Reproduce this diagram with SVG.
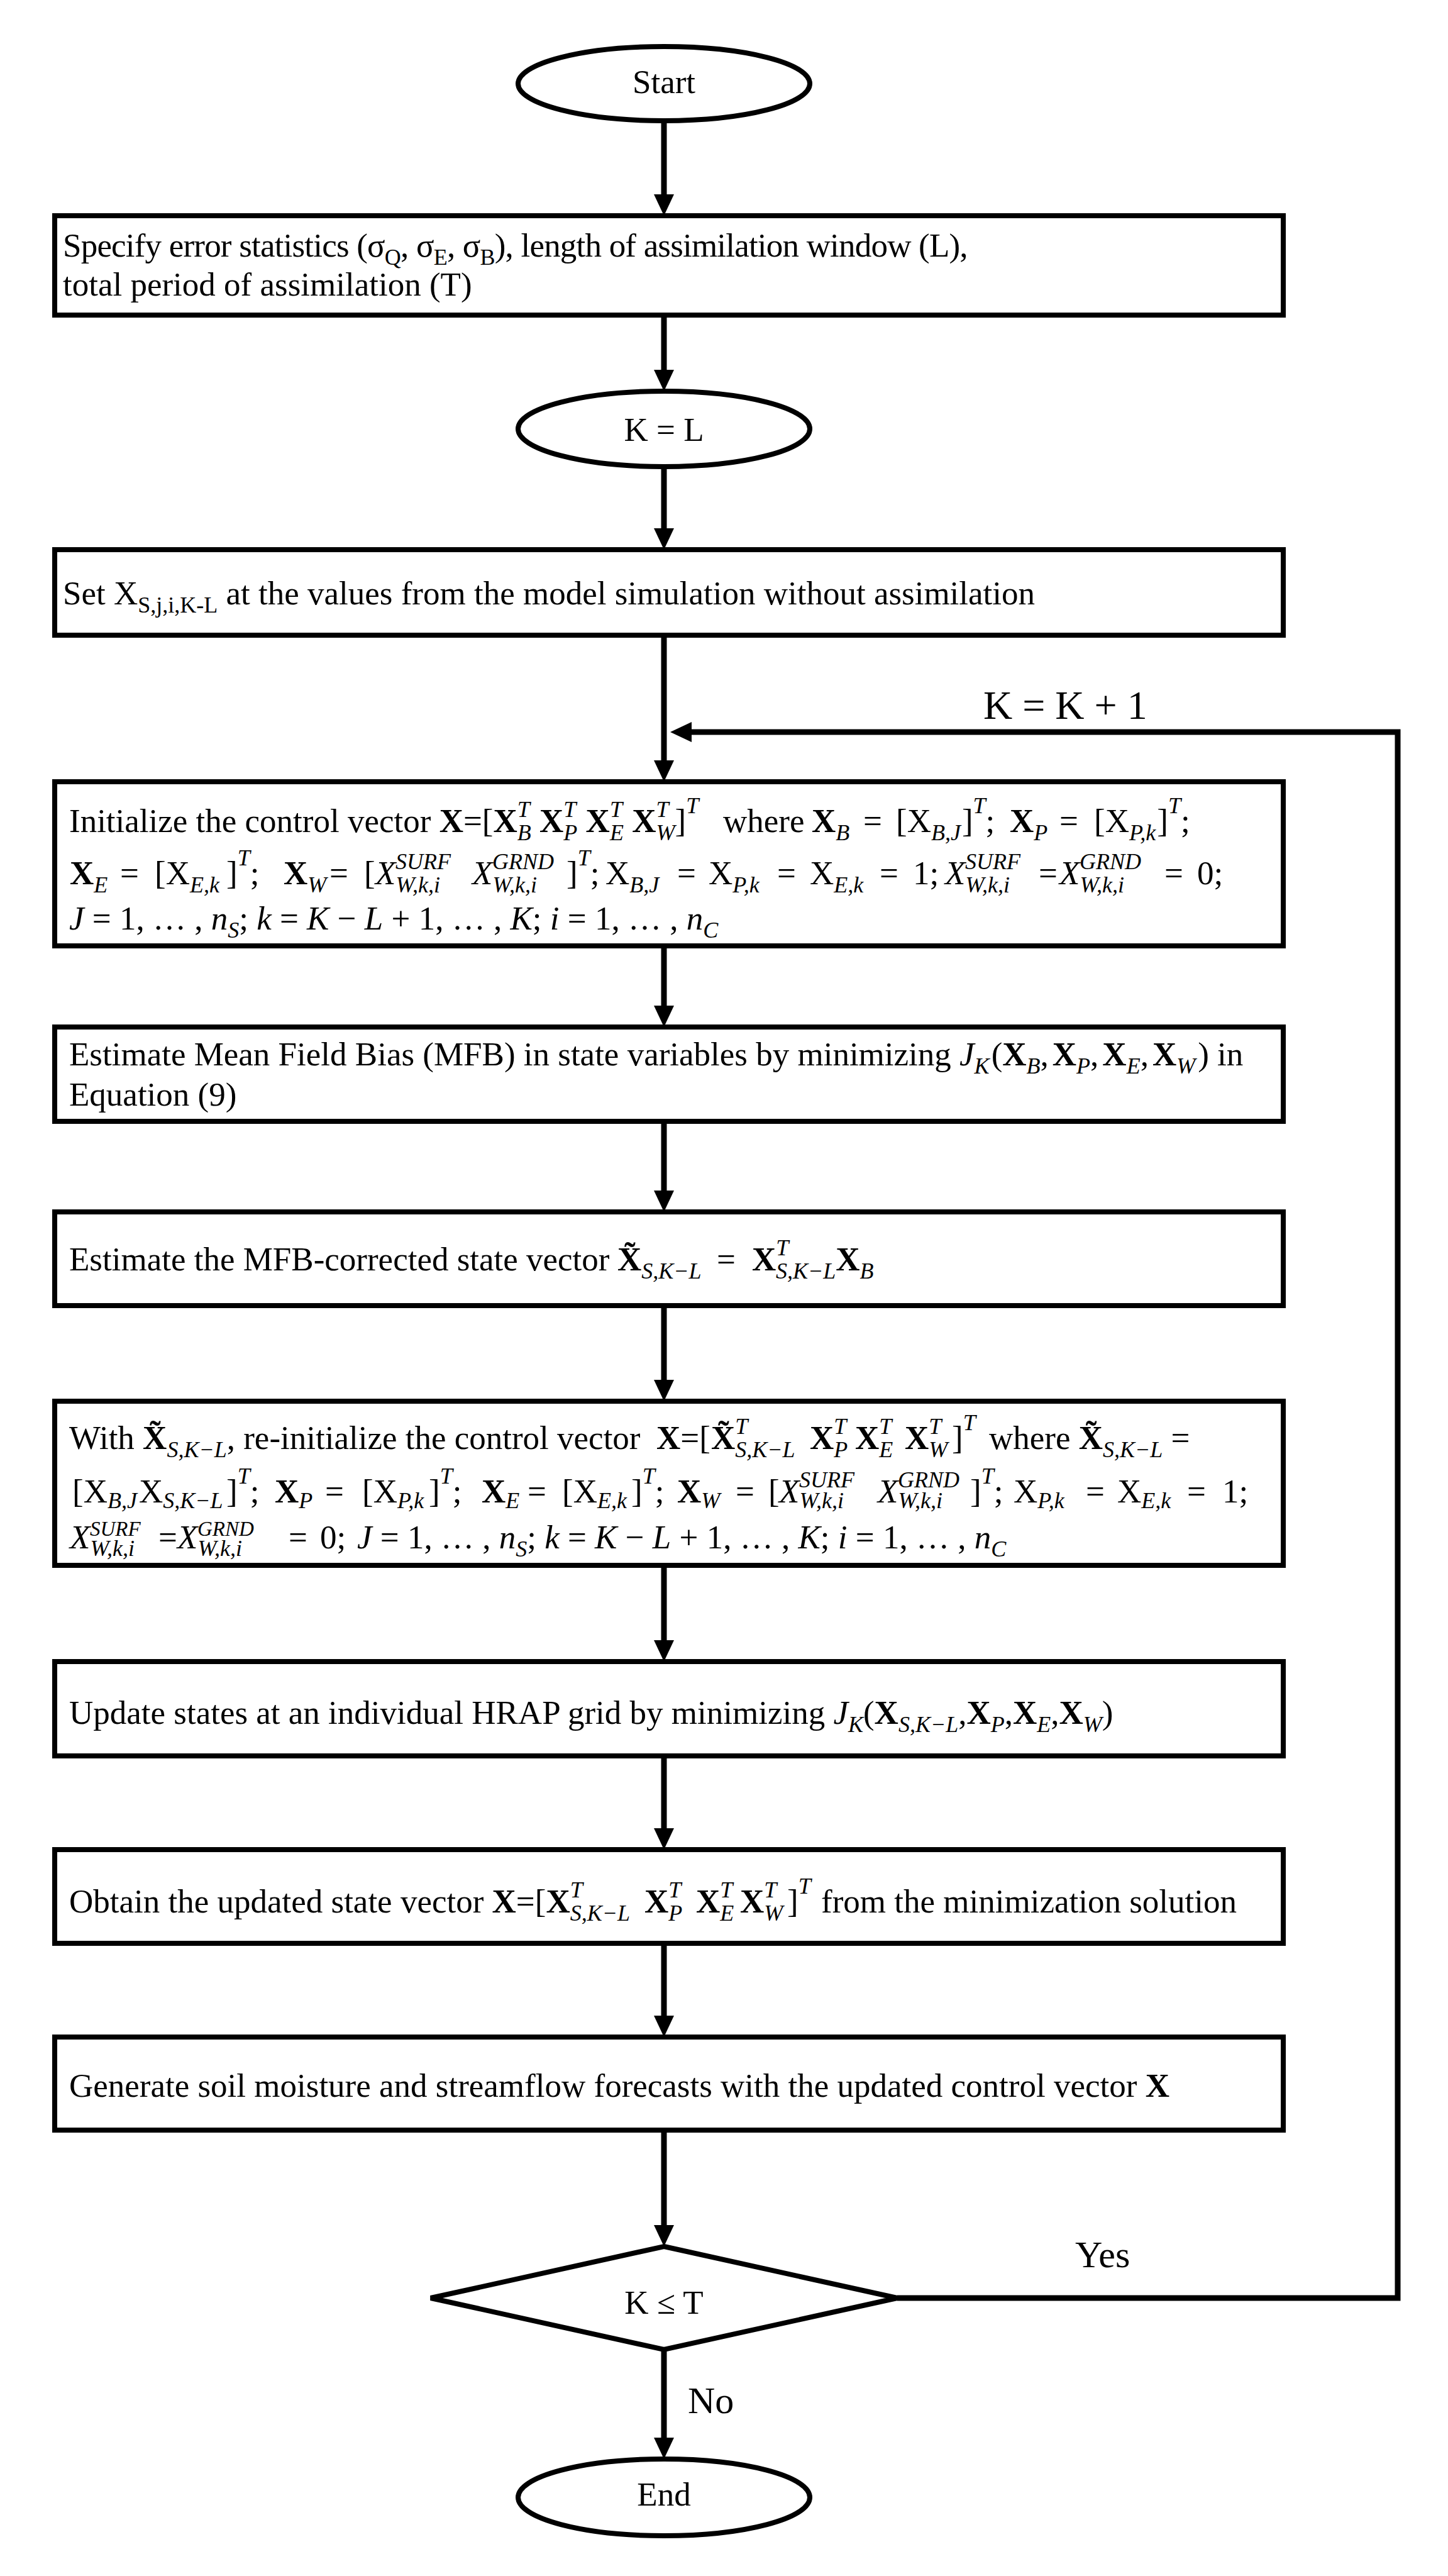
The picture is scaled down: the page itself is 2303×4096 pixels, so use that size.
<svg xmlns="http://www.w3.org/2000/svg" width="2303" height="4096" viewBox="0 0 2303 4096">
<defs>
<style>
.t{font-family:"Liberation Serif","Times New Roman",serif;font-size:53px;fill:#000}
.lb{font-family:"Liberation Serif","Times New Roman",serif;fill:#000}
.b{font-weight:bold}
.i{font-style:italic}
.s{font-size:36px}
.ss{font-size:33px}
.box{fill:#fff;stroke:#000;stroke-width:8}
.edge{fill:none;stroke:#000;stroke-width:9}
</style>
<marker id="ah" markerUnits="userSpaceOnUse" markerWidth="34" markerHeight="32" refX="4" refY="16" orient="auto"><path d="M0,0 L34,16 L0,32 Z" fill="#000"/></marker>
</defs>
<rect width="2303" height="4096" fill="#fff"/>
<g id="edges">
<line class="edge" x1="1056" y1="192" x2="1056" y2="313" marker-end="url(#ah)"/>
<line class="edge" x1="1056" y1="501" x2="1056" y2="592" marker-end="url(#ah)"/>
<line class="edge" x1="1056" y1="742" x2="1056" y2="844" marker-end="url(#ah)"/>
<line class="edge" x1="1056" y1="1010" x2="1056" y2="1213" marker-end="url(#ah)"/>
<line class="edge" x1="1056" y1="1504" x2="1056" y2="1603" marker-end="url(#ah)"/>
<line class="edge" x1="1056" y1="1783" x2="1056" y2="1897" marker-end="url(#ah)"/>
<line class="edge" x1="1056" y1="2076" x2="1056" y2="2198" marker-end="url(#ah)"/>
<line class="edge" x1="1056" y1="2489" x2="1056" y2="2612" marker-end="url(#ah)"/>
<line class="edge" x1="1056" y1="2792" x2="1056" y2="2911" marker-end="url(#ah)"/>
<line class="edge" x1="1056" y1="3090" x2="1056" y2="3209" marker-end="url(#ah)"/>
<line class="edge" x1="1056" y1="3387" x2="1056" y2="3542" marker-end="url(#ah)"/>
<line class="edge" x1="1056" y1="3736" x2="1056" y2="3880" marker-end="url(#ah)"/>
<polyline class="edge" points="1427,3654 2223,3654 2223,1164 1096,1164" marker-end="url(#ah)"/>
<text class="lb" x="1564" y="1143" font-size="64">K = K + 1</text>
<text class="lb" x="1710" y="3605" font-size="60">Yes</text>
<text class="lb" x="1094" y="3837" font-size="60">No</text>
</g>
<g id="n-start">
<ellipse class="box" cx="1056" cy="133" rx="232" ry="59"/>
<text class="t" x="1056" y="148" text-anchor="middle" font-size="55">Start</text>
</g>
<g id="n-specify">
<rect class="box" x="87" y="343" width="1954" height="158"/>
<text class="t" x="100" y="408" letter-spacing="-0.8">Specify error statistics (σ<tspan class="s" dy="13">Q</tspan><tspan dy="-13">, σ</tspan><tspan class="s" dy="13">E</tspan><tspan dy="-13">, σ</tspan><tspan class="s" dy="13">B</tspan><tspan dy="-13">), length of assimilation window (L),</tspan></text>
<text class="t" x="100" y="470">total period of assimilation (T)</text>
</g>
<g id="n-kl">
<ellipse class="box" cx="1056" cy="682" rx="232" ry="60"/>
<text class="t" x="1056" y="701" text-anchor="middle" font-size="55">K = L</text>
</g>
<g id="n-set">
<rect class="box" x="87" y="874" width="1954" height="136"/>
<text class="t" x="100" y="961">Set X<tspan class="s" dy="13">S,j,i,K-L</tspan><tspan dy="-13"> at the values from the model simulation without assimilation</tspan></text>
</g>
<g id="n-init">
<rect class="box" x="87" y="1243" width="1954" height="261"/>
<text class="t" x="110" y="1323">Initialize the control vector <tspan class="b">X</tspan>=[<tspan class="b">X</tspan><tspan class="s i" y="1299">T</tspan><tspan class="s i" dx="-20" y="1336">B</tspan><tspan y="1323"> </tspan><tspan class="b">X</tspan><tspan class="s i" y="1299">T</tspan><tspan class="s i" dx="-20" y="1336">P</tspan><tspan y="1323"> </tspan><tspan class="b">X</tspan><tspan class="s i" y="1299">T</tspan><tspan class="s i" dx="-20" y="1336">E</tspan><tspan y="1323"> </tspan><tspan class="b">X</tspan><tspan class="s i" y="1299">T</tspan><tspan class="s i" dx="-20" y="1336">W</tspan><tspan y="1323">]</tspan><tspan class="s i" y="1293">T</tspan><tspan x="1150" y="1323">where</tspan><tspan x="1291" class="b">X</tspan><tspan class="s i" y="1336">B</tspan><tspan x="1373" y="1323">=</tspan><tspan x="1425">[X</tspan><tspan class="s i" y="1336">B,J</tspan><tspan y="1323" dx="2">]</tspan><tspan class="s i" y="1293">T</tspan><tspan y="1323">;</tspan><tspan x="1606" class="b">X</tspan><tspan class="s i" y="1336">P</tspan><tspan x="1685" y="1323">=</tspan><tspan x="1740">[X</tspan><tspan class="s i" y="1336">P,k</tspan><tspan y="1323" dx="2">]</tspan><tspan class="s i" y="1293">T</tspan><tspan y="1323">;</tspan></text>
<text class="t" x="111" y="1406"><tspan class="b">X</tspan><tspan class="s i" y="1419">E</tspan><tspan x="191" y="1406">=</tspan><tspan x="246">[X</tspan><tspan class="s i" y="1419">E,k</tspan><tspan x="360" y="1406">]</tspan><tspan class="s i" y="1376">T</tspan><tspan y="1406">;</tspan><tspan x="451" class="b">X</tspan><tspan class="s i" y="1419">W</tspan><tspan x="524" y="1406">=</tspan><tspan x="579">[</tspan><tspan x="597" class="i">X</tspan><tspan class="s i" y="1419">W,k,i</tspan><tspan class="s i" x="629" y="1382">SURF</tspan><tspan x="751" y="1406" class="i">X</tspan><tspan class="s i" y="1419">W,k,i</tspan><tspan class="s i" x="783" y="1382">GRND</tspan><tspan x="901" y="1406">]</tspan><tspan class="s i" y="1376">T</tspan><tspan y="1406">;</tspan><tspan x="963">X</tspan><tspan class="s i" y="1419">B,J</tspan><tspan x="1077" y="1406">=</tspan><tspan x="1127">X</tspan><tspan class="s i" y="1419">P,k</tspan><tspan x="1236" y="1406">=</tspan><tspan x="1288">X</tspan><tspan class="s i" y="1419">E,k</tspan><tspan x="1399" y="1406">=</tspan><tspan x="1452">1;</tspan><tspan x="1503" class="i">X</tspan><tspan class="s i" y="1419">W,k,i</tspan><tspan class="s i" x="1535" y="1382">SURF</tspan><tspan x="1652" y="1406">=</tspan><tspan x="1685" class="i">X</tspan><tspan class="s i" y="1419">W,k,i</tspan><tspan class="s i" x="1717" y="1382">GRND</tspan><tspan x="1852" y="1406">=</tspan><tspan x="1904">0;</tspan></text>
<text class="t" x="110" y="1478"><tspan class="i">J</tspan> = 1, … , <tspan class="i">n</tspan><tspan class="s i" dy="13">S</tspan><tspan dy="-13">; </tspan><tspan class="i">k</tspan> = <tspan class="i">K</tspan> − <tspan class="i">L</tspan> + 1, … , <tspan class="i">K</tspan>; <tspan class="i">i</tspan> = 1, … , <tspan class="i">n</tspan><tspan class="s i" dy="13">C</tspan></text>
</g>
<g id="n-mfb">
<rect class="box" x="87" y="1633" width="1954" height="150"/>
<text class="t" x="110" y="1694">Estimate Mean Field Bias (MFB) in state variables by minimizing <tspan class="i">J</tspan><tspan class="s i" y="1707">K</tspan><tspan y="1694" dx="3">(</tspan><tspan class="b">X</tspan><tspan class="s i" y="1707">B</tspan><tspan y="1694">,</tspan><tspan class="b" dx="6">X</tspan><tspan class="s i" y="1707">P</tspan><tspan y="1694">,</tspan><tspan class="b" dx="6">X</tspan><tspan class="s i" y="1707">E</tspan><tspan y="1694">,</tspan><tspan class="b" dx="6">X</tspan><tspan class="s i" y="1707">W</tspan><tspan y="1694" dx="4">) in</tspan></text>
<text class="t" x="110" y="1758">Equation (9)</text>
</g>
<g id="n-corr">
<rect class="box" x="87" y="1927" width="1954" height="149"/>
<text class="t" x="110" y="2020">Estimate the MFB-corrected state vector<tspan x="982" class="b">X&#x303;</tspan><tspan class="s i" y="2033">S,K−L</tspan><tspan x="1140" y="2020">=</tspan><tspan x="1196" class="b">X</tspan><tspan class="s i" y="1996">T</tspan><tspan class="s i" x="1234" y="2033">S,K−L</tspan><tspan class="b" y="2020">X</tspan><tspan class="s i" y="2033">B</tspan></text>
</g>
<g id="n-reinit">
<rect class="box" x="87" y="2228" width="1954" height="261"/>
<text class="t" x="110" y="2304">With <tspan class="b">X&#x303;</tspan><tspan class="s i" y="2317">S,K−L</tspan><tspan y="2304">, re-initialize the control vector </tspan><tspan x="1044" class="b">X</tspan>=[<tspan x="1131" class="b">X&#x303;</tspan><tspan class="s i" y="2280">T</tspan><tspan class="s i" dx="-20" y="2317">S,K−L</tspan><tspan x="1288" y="2304" class="b">X</tspan><tspan class="s i" y="2280">T</tspan><tspan class="s i" dx="-20" y="2317">P</tspan><tspan x="1360" y="2304" class="b">X</tspan><tspan class="s i" y="2280">T</tspan><tspan class="s i" dx="-20" y="2317">E</tspan><tspan x="1439" y="2304" class="b">X</tspan><tspan class="s i" y="2280">T</tspan><tspan class="s i" dx="-20" y="2317">W</tspan><tspan x="1514" y="2304">]</tspan><tspan class="s i" y="2274">T</tspan><tspan x="1573" y="2304">where </tspan><tspan class="b">X&#x303;</tspan><tspan class="s i" y="2317">S,K−L</tspan><tspan y="2304"> =</tspan></text>
<text class="t" x="115" y="2389">[X<tspan class="s i" y="2398">B,J</tspan><tspan x="221" y="2389">X</tspan><tspan class="s i" y="2398">S,K−L</tspan><tspan x="360" y="2389">]</tspan><tspan class="s i" y="2359">T</tspan><tspan y="2389">;</tspan><tspan x="437" class="b">X</tspan><tspan class="s i" y="2398">P</tspan><tspan x="517" y="2389">=</tspan><tspan x="576">[X</tspan><tspan class="s i" y="2398">P,k</tspan><tspan x="682" y="2389">]</tspan><tspan class="s i" y="2359">T</tspan><tspan y="2389">;</tspan><tspan x="766" class="b">X</tspan><tspan class="s i" y="2398">E</tspan><tspan x="839" y="2389">=</tspan><tspan x="894">[X</tspan><tspan class="s i" y="2398">E,k</tspan><tspan x="1004" y="2389">]</tspan><tspan class="s i" y="2359">T</tspan><tspan y="2389">;</tspan><tspan x="1077" class="b">X</tspan><tspan class="s i" y="2398">W</tspan><tspan x="1170" y="2389">=</tspan><tspan x="1222">[</tspan><tspan x="1239" class="i">X</tspan><tspan class="s i" y="2398">W,k,i</tspan><tspan class="s i" x="1271" y="2365">SURF</tspan><tspan x="1396" y="2389" class="i">X</tspan><tspan class="s i" y="2398">W,k,i</tspan><tspan class="s i" x="1428" y="2365">GRND</tspan><tspan x="1543" y="2389">]</tspan><tspan class="s i" y="2359">T</tspan><tspan y="2389">;</tspan><tspan x="1612">X</tspan><tspan class="s i" y="2398">P,k</tspan><tspan x="1727" y="2389">=</tspan><tspan x="1777">X</tspan><tspan class="s i" y="2398">E,k</tspan><tspan x="1888" y="2389">=</tspan><tspan x="1944">1;</tspan></text>
<text class="t" x="111" y="2462"><tspan class="i">X</tspan><tspan class="s i" y="2474">W,k,i</tspan><tspan class="ss i" x="143" y="2442">SURF</tspan><tspan x="252" y="2462">=</tspan><tspan x="282" class="i">X</tspan><tspan class="s i" y="2474">W,k,i</tspan><tspan class="ss i" x="314" y="2442">GRND</tspan><tspan x="459" y="2462">=</tspan><tspan x="509">0;</tspan><tspan x="568" class="i">J</tspan><tspan> = 1, … , </tspan><tspan class="i">n</tspan><tspan class="s i" y="2475">S</tspan><tspan y="2462">; </tspan><tspan class="i">k</tspan><tspan> = </tspan><tspan class="i">K</tspan><tspan> − </tspan><tspan class="i">L</tspan><tspan> + 1, … , </tspan><tspan class="i">K</tspan><tspan>; </tspan><tspan class="i">i</tspan><tspan> = 1, … , </tspan><tspan class="i">n</tspan><tspan class="s i" y="2475">C</tspan></text>
</g>
<g id="n-update">
<rect class="box" x="87" y="2642" width="1954" height="150"/>
<text class="t" x="110" y="2741">Update states at an individual HRAP grid by minimizing <tspan class="i">J</tspan><tspan class="s i" dy="13">K</tspan><tspan dy="-13">(</tspan><tspan class="b">X</tspan><tspan class="s i" dy="13">S,K−L</tspan><tspan dy="-13">,</tspan><tspan class="b">X</tspan><tspan class="s i" dy="13">P</tspan><tspan dy="-13">,</tspan><tspan class="b">X</tspan><tspan class="s i" dy="13">E</tspan><tspan dy="-13">,</tspan><tspan class="b">X</tspan><tspan class="s i" dy="13">W</tspan><tspan dy="-13">)</tspan></text>
</g>
<g id="n-obtain">
<rect class="box" x="87" y="2941" width="1954" height="149"/>
<text class="t" x="110" y="3041">Obtain the updated state vector <tspan class="b">X</tspan>=[<tspan class="b">X</tspan><tspan class="s i" y="3017">T</tspan><tspan class="s i" dx="-20" y="3054">S,K−L</tspan><tspan x="1025" y="3041" class="b">X</tspan><tspan class="s i" y="3017">T</tspan><tspan class="s i" dx="-20" y="3054">P</tspan><tspan x="1107" y="3041" class="b">X</tspan><tspan class="s i" y="3017">T</tspan><tspan class="s i" dx="-20" y="3054">E</tspan><tspan x="1177" y="3041" class="b">X</tspan><tspan class="s i" y="3017">T</tspan><tspan class="s i" dx="-20" y="3054">W</tspan><tspan x="1252" y="3041">]</tspan><tspan class="s i" y="3011">T</tspan><tspan x="1306" y="3041">from the minimization solution</tspan></text>
</g>
<g id="n-generate">
<rect class="box" x="87" y="3239" width="1954" height="148"/>
<text class="t" x="110" y="3334">Generate soil moisture and streamflow forecasts with the updated control vector <tspan class="b">X</tspan></text>
</g>
<g id="n-decision">
<polygon class="box" points="1056,3572 1427,3654 1056,3736 685,3654"/>
<text class="t" x="1056" y="3679" text-anchor="middle" font-size="62">K ≤ T</text>
</g>
<g id="n-end">
<ellipse class="box" cx="1056" cy="3971" rx="232" ry="61"/>
<text class="t" x="1056" y="3984" text-anchor="middle" font-size="60">End</text>
</g>
</svg>
